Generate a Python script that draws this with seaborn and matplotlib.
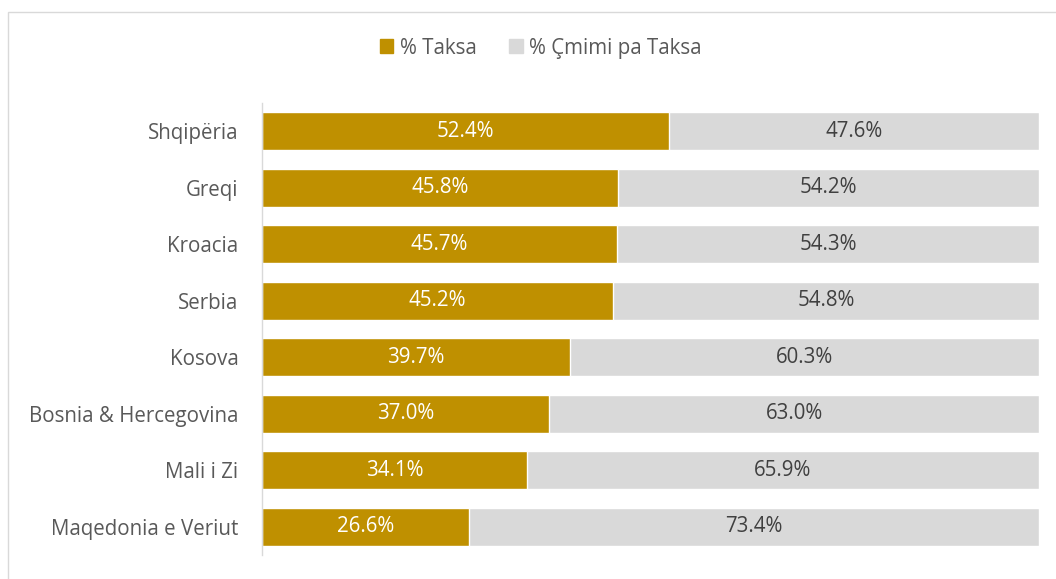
import pandas as pd
import seaborn as sns
import matplotlib.pyplot as plt
from matplotlib.patches import Rectangle, Patch

countries = ['Shqipëria', 'Greqi', 'Kroacia', 'Serbia', 'Kosova',
             'Bosnia & Hercegovina', 'Mali i Zi', 'Maqedonia e Veriut']
taksa = [52.4, 45.8, 45.7, 45.2, 39.7, 37.0, 34.1, 26.6]
pa_taksa = [47.6, 54.2, 54.3, 54.8, 60.3, 63.0, 65.9, 73.4]

gold = '#BF9000'
grey = '#D9D9D9'

df = pd.DataFrame({'country': countries, 'taksa': taksa, 'pa_taksa': pa_taksa})
df['total'] = df['taksa'] + df['pa_taksa']

sns.set_style('white')
plt.rcParams['font.family'] = ['Open Sans', 'DejaVu Sans']
fs = 14.8

fig = plt.figure(figsize=(10.56, 5.79), dpi=100)
ax = fig.add_axes([0.248, 0.0415, 0.736, 0.7805])

# grey full bar underneath, gold share on top
sns.barplot(data=df, x='total', y='country', orient='h', color=grey,
            width=0.67, saturation=1, ax=ax)
sns.barplot(data=df, x='taksa', y='country', orient='h', color=gold,
            width=0.67, saturation=1, ax=ax)

for i, row in df.iterrows():
    ax.text(row['taksa'] / 2, i, f"{row['taksa']:.1f}%", ha='center', va='center',
            color='white', fontsize=fs)
    ax.text(row['taksa'] + row['pa_taksa'] / 2, i, f"{row['pa_taksa']:.1f}%",
            ha='center', va='center', color='#404040', fontsize=fs)

ax.set_xlim(0, 100)
ax.set_xlabel('')
ax.set_ylabel('')
ax.set_xticks([])
ax.tick_params(axis='y', length=0, pad=17, labelsize=fs, labelcolor='#595959')
for s in ['top', 'right', 'bottom']:
    ax.spines[s].set_visible(False)
ax.spines['left'].set_color('#D9D9D9')
ax.spines['left'].set_linewidth(1.0)

handles = [Patch(color=gold, label='% Taksa'), Patch(color=grey, label='% Çmimi pa Taksa')]
fig.legend(handles=handles, loc='center', bbox_to_anchor=(0.512, 0.917), ncol=2,
           frameon=False, fontsize=fs, handlelength=0.65, handleheight=0.65,
           handletextpad=0.3, columnspacing=1.6, labelcolor='#595959')

# chart area border
fig.patches.append(Rectangle((8 / 1056, -0.05), 1.1, 1 - 12 / 579 + 0.05,
                             transform=fig.transFigure, fill=False,
                             edgecolor='#D9D9D9', linewidth=1.0))

fig.savefig('out.png', dpi=100)
